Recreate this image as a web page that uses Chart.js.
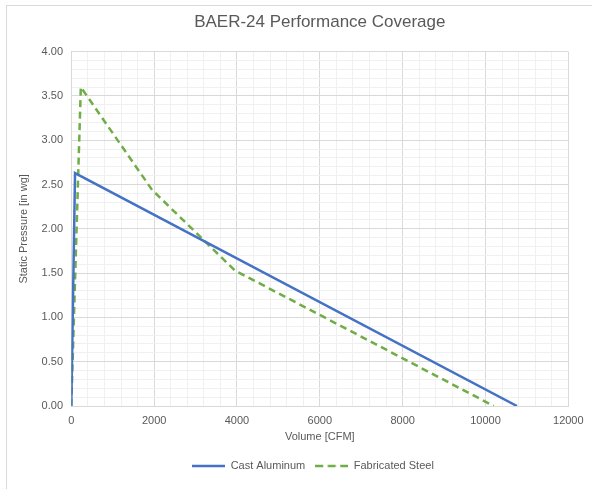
<!DOCTYPE html>
<html>
<head>
<meta charset="utf-8">
<script src="https://cdn.jsdelivr.net/npm/chart.js@4.4.1/dist/chart.umd.min.js"></script>
<style>
  html, body { margin: 0; padding: 0; background: #ffffff; overflow: hidden; width: 592px; height: 489px; }
  #frame { position: absolute; left: 6px; top: 5px; width: 700px; height: 600px; border: 1px solid #d9d9d9; box-sizing: border-box; }
  #wrap { position: absolute; left: 0; top: 0; width: 592px; height: 489px; }
</style>
</head>
<body>
<div id="frame"></div>
<div id="wrap"><canvas id="c" width="592" height="489"></canvas></div>
<script>
// ---- data ----
const chartTitle = 'BAER-24 Performance Coverage';
const xAxisTitle = 'Volume [CFM]';
const yAxisTitle = 'Static Pressure [in wg]';
const seriesNames = ['Cast Aluminum', 'Fabricated Steel'];
const aluminumCFM = [0, 90, 10760];
const aluminumSP  = [0, 2.63, 0];
const steelCFM = [0, 230, 1950, 3950, 10200];
const steelSP  = [0, 3.60, 2.44, 1.53, 0];
const xMin = 0, xMax = 12000, xMajor = 2000, xMinor = 400;
const yMin = 0, yMax = 4, yMajor = 0.5, yMinor = 0.1;

const blue = '#4472C4';
const green = '#70AD47';
const textColor = '#595959';
const majorGrid = '#d9d9d9';
const minorGrid = '#f0f0f0';
const FONT = '"Liberation Sans", Arial, Helvetica, sans-serif';

function toPoints(xs, ys) { return xs.map((x, i) => ({x: x, y: ys[i]})); }

function legendSwatch(color, dash) {
  const c = document.createElement('canvas');
  c.width = 33; c.height = 4;
  const g = c.getContext('2d');
  g.strokeStyle = color; g.lineWidth = 2.5;
  g.setLineDash(dash);
  g.beginPath(); g.moveTo(0, 2); g.lineTo(33, 2); g.stroke();
  return c;
}
const swatches = [legendSwatch(blue, []), legendSwatch(green, [8, 4.5])];

const isMult = (v, step) => Math.abs(v / step - Math.round(v / step)) < 1e-6;

// let the y axis (labels + title) use the space left of the layout padding
const yAxisToEdge = {
  id: 'yAxisToEdge',
  afterLayout(chart) { const y = chart.scales.y; y.left = 0; y.width = y.right - y.left; }
};

new Chart(document.getElementById('c'), {
  type: 'line',
  plugins: [yAxisToEdge],
  data: {
    datasets: [
      { label: seriesNames[0], data: toPoints(aluminumCFM, aluminumSP), borderColor: blue, backgroundColor: blue,
        borderWidth: 2.5, pointRadius: 0, tension: 0, fill: false },
      { label: seriesNames[1], data: toPoints(steelCFM, steelSP), borderColor: green, backgroundColor: green,
        borderWidth: 2.5, borderDash: [7, 4.5], pointRadius: 0, tension: 0, fill: false }
    ]
  },
  options: {
    responsive: false,
    animation: false,
    devicePixelRatio: 1,
    layout: { padding: { left: 54.3, right: 20.3, top: 0, bottom: 7.5 } },
    plugins: {
      title: { display: true, fullSize: false, text: chartTitle, color: textColor,
        font: { family: FONT, size: 17, weight: 'normal' }, padding: { top: 11.8, bottom: 19.5 } },
      legend: { display: true, position: 'bottom',
        labels: { color: textColor, font: { family: FONT, size: 11 }, usePointStyle: true, pointStyleWidth: 33,
          boxHeight: 4, padding: 10,
          generateLabels: (chart) => {
            const items = Chart.defaults.plugins.legend.labels.generateLabels(chart);
            items.forEach((it, i) => { it.pointStyle = swatches[i]; });
            return items;
          } } },
      tooltip: { enabled: false }
    },
    scales: {
      x: {
        type: 'linear', min: xMin, max: xMax,
        afterFit: (s) => { s.height = 44.5; },
        ticks: { stepSize: xMinor, autoSkip: false, maxRotation: 0, color: textColor, padding: 8.4,
          font: { family: FONT, size: 11 },
          callback: (v) => isMult(v, xMajor) ? String(Math.round(v)) : '' },
        grid: { drawTicks: false, color: (ctx) => (ctx.tick && isMult(ctx.tick.value, xMajor)) ? majorGrid : minorGrid, lineWidth: 1 },
        border: { display: true, color: majorGrid },
        title: { display: true, text: xAxisTitle, color: textColor, font: { family: FONT, size: 11 }, padding: { top: 0, bottom: 6.9 } }
      },
      y: {
        type: 'linear', min: yMin, max: yMax,
        afterFit: (s) => { s.width = 17; },
        ticks: { stepSize: yMinor, autoSkip: false, color: textColor, padding: 8.3,
          font: { family: FONT, size: 11 },
          callback: (v) => isMult(v, yMajor) ? Number(v).toFixed(2) : '' },
        grid: { drawTicks: false, color: (ctx) => (ctx.tick && isMult(ctx.tick.value, yMajor)) ? majorGrid : minorGrid, lineWidth: 1 },
        border: { display: true, color: majorGrid },
        title: { display: true, text: yAxisTitle, color: textColor, font: { family: FONT, size: 11 }, padding: { top: 17.4, bottom: 0 } }
      }
    }
  }
});
</script>
</body>
</html>
